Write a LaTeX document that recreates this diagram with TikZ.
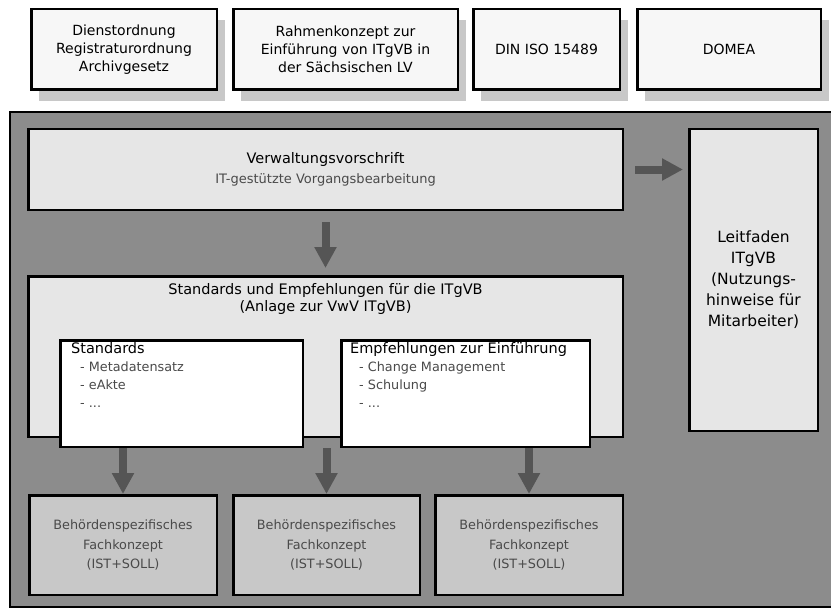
\documentclass[tikz,border=0pt]{standalone}
\usepackage{fontspec}
\setmainfont{DejaVu Sans}
\usetikzlibrary{positioning, shadows, arrows.meta}

\definecolor{framegray}{HTML}{8C8C8C}
\definecolor{lightgray}{HTML}{E6E6E6}
\definecolor{fachgray}{HTML}{C8C8C8}
\definecolor{shadowgray}{HTML}{C8C8C8}
\definecolor{arrowgray}{HTML}{555555}
\definecolor{textgray}{HTML}{4A4A4A}

\newcommand{\punkt}[1]{\hspace*{9pt}{\color{textgray}\fontsize{12.8}{18}\selectfont - #1}}

\begin{document}
\begin{tikzpicture}[x=1pt, y=-1pt, node distance=14pt,
  backframe/.style={draw, line width=2pt, fill=framegray, inner sep=0pt,
    minimum width=824pt, minimum height=495pt},
  topbox/.style={draw, line width=2.5pt, fill=white!97!black, inner sep=0pt,
    align=center, minimum height=80.5pt, font=\fontsize{14}{18}\selectfont,
    drop shadow={shadow xshift=8pt, shadow yshift=-11pt, fill=shadowgray, opacity=1}},
  lightbox/.style={draw, line width=2.5pt, fill=lightgray, inner sep=0pt,
    align=center, font=\fontsize{14.5}{20}\selectfont},
  whitebox/.style={draw, line width=2.5pt, fill=white, inner sep=0pt,
    minimum width=#1, minimum height=106.5pt},
  fachbox/.style={draw, line width=2.5pt, fill=fachgray, inner sep=0pt,
    align=center, minimum width=187.5pt, minimum height=99.5pt,
    text=textgray, font=\fontsize{12.8}{19.5}\selectfont},
  titletext/.style={inner sep=0pt, align=center, font=\fontsize{14.5}{17.5}\selectfont},
  listtext/.style={inner sep=0pt, align=left, font=\fontsize{14.5}{18}\selectfont},
  bigarrow/.style={arrowgray, line width=8pt, -{Triangle[length=21pt, width=21pt]}}]

  \useasboundingbox (0,0) rectangle (831,610);

  \node[backframe] (rahmen) at (422,359.5) {};

  % Grundlagen oben
  \node[topbox, minimum width=185.5pt] (dienst) at (124,49.5) {Dienstordnung\\Registraturordnung\\Archivgesetz};
  \node[topbox, minimum width=224.5pt] (konzept) [right=of dienst] {Rahmenkonzept zur\\Einführung von ITgVB in\\der Sächsischen LV};
  \node[topbox, minimum width=146.5pt] (din) [right=13pt of konzept] {DIN ISO 15489};
  \node[topbox, minimum width=183.5pt] (domea) [right=15pt of din] {DOMEA};

  \node[lightbox, minimum width=594.5pt, minimum height=80.5pt] (vwv) at (325.5,169.5)
    {Verwaltungsvorschrift\\{\color{textgray}\fontsize{13}{20}\selectfont IT-gestützte Vorgangsbearbeitung}};
  \node[lightbox, minimum width=128.5pt, minimum height=301.5pt, font=\fontsize{15.5}{21}\selectfont] (leit) at (753.5,280)
    {Leitfaden\\ITgVB\\(Nutzungs-\\hinweise für\\Mitarbeiter)};

  \node[lightbox, minimum width=594.5pt, minimum height=160.5pt] (std) at (325.5,356.5) {};
  \node[titletext] (stdtitel) [below=8pt of std.north] {Standards und Empfehlungen für die ITgVB\\(Anlage zur VwV ITgVB)};

  \node[whitebox=242.5pt] (stdbox) at (181.5,393.5) {};
  \node[listtext, anchor=north west] (stdliste) [below right=3pt and 12pt of stdbox.north west]
    {Standards\\\punkt{Metadatensatz}\\\punkt{eAkte}\\\punkt{...}};
  \node[whitebox=248.5pt] (empf) at (465.5,393.5) {};
  \node[listtext, anchor=north west] (empfliste) [below right=3pt and 10pt of empf.north west]
    {Empfehlungen zur Einführung\\\punkt{Change Management}\\\punkt{Schulung}\\\punkt{...}};

  % Fachkonzepte
  \node[fachbox] (fach1) at (123,545) {Behördenspezifisches\\Fachkonzept\\(IST+SOLL)};
  \node[fachbox, minimum width=186.5pt] (fach2) [right=of fach1] {Behördenspezifisches\\Fachkonzept\\(IST+SOLL)};
  \node[fachbox] (fach3) [right=13pt of fach2] {Behördenspezifisches\\Fachkonzept\\(IST+SOLL)};

  \path[bigarrow]
  (vwv.south) edge [shorten <=11pt, shorten >=7pt] (std.north)
  (vwv.east) edge [shorten <=11pt, shorten >=5pt] (vwv.east -| leit.west)
  (fach1.north |- stdbox.south) edge (fach1.north)
  (fach2.north |- stdbox.south) edge (fach2.north)
  (fach3.north |- stdbox.south) edge (fach3.north)
  ;
\end{tikzpicture}
\end{document}
